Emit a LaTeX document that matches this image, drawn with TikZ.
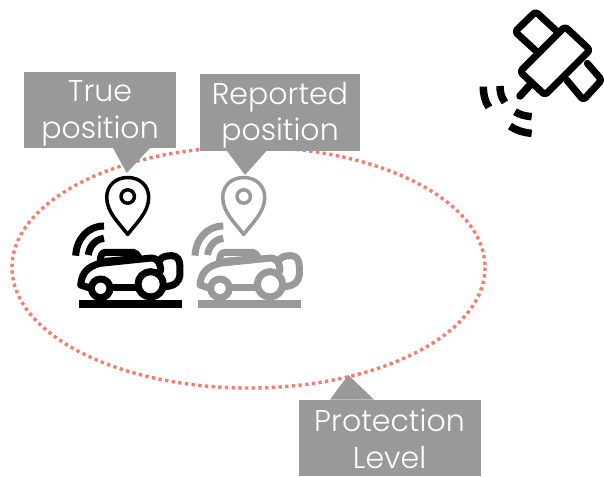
\documentclass[tikz,border=0pt]{standalone}
\usepackage{fontspec}
\setmainfont{Poppins}[UprightFont=* Light]
\definecolor{boxgray}{HTML}{999999}
\definecolor{dotred}{HTML}{F97B6C}
\tikzset{
  x=1pt,y=-1pt,
  lab/.style={text=white,font=\fontsize{30}{36.5}\selectfont,align=center,inner sep=0pt},
  boxfill/.style={fill=boxgray,draw=none},
  ico/.style={line width=#1,line join=round,line cap=round},
}
\newcommand{\mowerdraw}[1]{%
  \begin{scope}[x=0.3333pt,y=-0.3333pt,draw=#1,fill=#1,ico=7pt]
    \fill (57,421) rectangle (365,444);
    \draw (122,385) circle (28);
    \draw (272,373) circle (38);
    \draw (155,382) -- (235,382);
    \draw (92,385) -- (62,375) .. controls (66,335) and (85,320) .. (120,310) -- (275,294) .. controls (292,294) and (302,310) .. (302,332);
    \draw (120,310) -- (122,292) .. controls (125,280) and (130,277) .. (140,277) -- (220,277) .. controls (228,277) and (232,285) .. (238,296);
    \draw[line width=3pt] (135,298) -- (225,290);
    \draw (300,300) .. controls (305,290) and (320,287) .. (335,287) .. controls (352,287) and (360,300) .. (360,320) -- (360,345) .. controls (358,365) and (345,378) .. (315,380);
    \draw[line cap=butt,line width=7pt] (47,287) .. controls (50,235) and (85,198) .. (132,198);
    \draw[line cap=butt,line width=7pt] (85,285) .. controls (88,260) and (105,238) .. (132,235);
  \end{scope}}
\newcommand{\pindraw}[1]{%
  \begin{scope}[draw=#1,ico=3.5pt]
    \draw (0,57) .. controls (-8,46) and (-21,35) .. (-21,20) .. controls (-21,8) and (-12,0) .. (0,0) .. controls (12,0) and (21,8) .. (21,20) .. controls (21,35) and (8,46) .. (0,57) -- cycle;
    \draw (0,19) circle (6.7);
  \end{scope}}
\begin{document}
\begin{tikzpicture}
\useasboundingbox (0,0) rectangle (604,476);
% ellipse
\draw[dotred,line width=3.4pt,dash pattern=on 3.3pt off 3.4pt] (248.5,267.5) ellipse [x radius=236.5,y radius=120.5];
% label boxes
\fill[boxfill] (24.3,71.7) rectangle (176,148.3);
\fill[boxfill] (113,148) -- (126.7,173) -- (150,148) -- cycle;
\fill[boxfill] (200,74) rectangle (360,150.7);
\fill[boxfill] (226.7,150.7) -- (245,175) -- (266.7,150.7) -- cycle;
\fill[boxfill] (299,399.5) rectangle (480.7,476);
\fill[boxfill] (330,399.5) -- (348.3,375) -- (374,399.5) -- cycle;
\node[lab] (truepos) at (100,113.5) {True\\position};
\node[lab] (reppos) at (280,115.5) {Reported\\position};
\node[lab] (protlevel) at (389.5,439) {Protection\\Level};
% pins
\begin{scope}[shift={(127.7,177.5)}]\pindraw{black}\end{scope}
\begin{scope}[shift={(243.7,177.5)}]\pindraw{boxgray}\end{scope}
% mowers
\begin{scope}[shift={(60,160)}]\mowerdraw{black}\end{scope}
\begin{scope}[shift={(179.3,160)}]\mowerdraw{boxgray}\end{scope}
% satellite
\begin{scope}[shift={(470,0)},x=0.3333pt,y=-0.3333pt,ico=7pt,rounded corners=3pt]
  \draw (150,215) -- (285,80) -- (360,150) -- (225,285) -- cycle;
  \draw (195,150) -- (135,95) -- (197,35) -- (262,95);
  \draw (290,240) -- (340,300) -- (395,240) -- (352,190);
  \draw[line width=7.5pt] (150,288) -- (180,255);
  \draw[line cap=butt,line width=7.5pt] (40,260) .. controls (40,285) and (45,305) .. (57,322);
  \draw[line cap=butt,line width=7.5pt] (90,258) .. controls (90,275) and (93,292) .. (105,307);
  \draw[line cap=butt,line width=7.5pt] (135,335) .. controls (150,345) and (165,348) .. (185,350);
  \draw[line cap=butt,line width=7.5pt] (120,378) .. controls (140,392) and (160,398) .. (185,400);
\end{scope}
\end{tikzpicture}
\end{document}
